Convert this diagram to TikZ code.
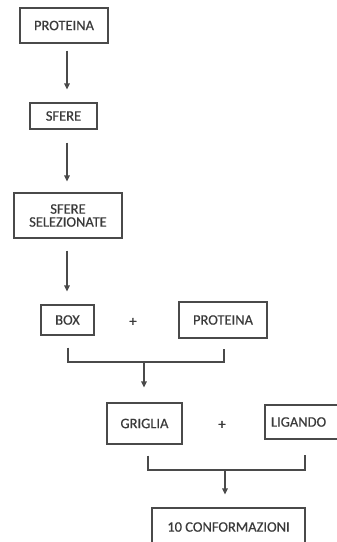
\documentclass[tikz,border=0pt]{standalone}
\usepackage{fontspec}
\setmainfont{Carlito}
\newfontfamily\lblfont[FakeBold=0.6]{Carlito}
\usetikzlibrary{arrows.meta,calc}
\definecolor{txt}{HTML}{3A3A3A}
\definecolor{ln}{HTML}{4A4A4A}
\tikzset{
  lbl/.style={text=txt, font=\lblfont\fontsize{14.5}{16}\selectfont},
  bx/.style={draw=ln, line width=1.1pt, rectangle, inner sep=0pt, lbl, align=center},
  arr/.style={draw=ln, line width=1.1pt, -{Triangle[length=6pt,width=5.5pt]}},
  con/.style={draw=ln, line width=1.1pt},
  plus/.style={lbl, inner sep=0pt}
}
\begin{document}
\begin{tikzpicture}[x=1pt,y=-1pt]
\useasboundingbox (0,0) rectangle (337,542);
\begin{scope}
\clip (0,0) rectangle (337,542);
\node[bx, minimum width=88pt, minimum height=35pt] (p1) at (64,25.5) {PROTEINA};
\node[bx, minimum width=67pt, minimum height=26pt] (sf) at (63.5,116) {SFERE};
\node[bx, minimum width=108pt, minimum height=45pt] (ss) at (68,215.5) {SFERE\\[-3pt]SELEZIONATE};
\node[bx, minimum width=53pt, minimum height=30pt] (bo) at (67.5,320) {BOX};
\node[plus] (pl1) at (133,322) {+};
\node[bx, minimum width=88pt, minimum height=36pt] (p2) at (223,320) {PROTEINA};
\node[bx, minimum width=75pt, minimum height=41pt] (gr) at (144.5,423.5) {GRIGLIA};
\node[plus] (pl2) at (222,425) {+};
\node[bx, minimum width=84pt, minimum height=34pt, text width=80pt, align=left] (li) at (307,422) {\hspace{4pt}LIGANDO};
\node[bx, minimum width=153pt, minimum height=40pt] (co) at (228.5,528) {};
\node[lbl, inner sep=0pt] (cot) at (228.5,527) {10 CONFORMAZIONI};
\end{scope}
\draw[arr] ($(p1.south)+(3,7)$) -- ($(sf.north)+(3.5,-13)$);
\draw[arr] ($(sf.south)+(3.5,13)$) -- ($(ss.north)+(-1,-11)$);
\draw[arr] ($(ss.south)+(-1,12)$) -- ($(bo.north)+(-0.5,-13)$);
\coordinate (b1l) at ($(bo.south)+(0.5,12)$);
\coordinate (b1r) at ($(p2.south)+(1,10)$);
\coordinate (b1m) at (b1l |- 0,362);
\draw[con] (b1l) -- (b1m) -- (b1r |- b1m) -- (b1r);
\coordinate (a1) at (144,362);
\draw[arr] (a1) -- ($(gr.north)+(-0.5,-15)$);
\coordinate (b2l) at ($(gr.south)+(3.5,11)$);
\coordinate (b2r) at (305,455);
\coordinate (b2m) at (b2l |- 0,470);
\draw[con] (b2l) -- (b2m) -- (b2r |- b2m) -- (b2r);
\coordinate (a2) at (225,470);
\draw[arr] (a2) -- ($(co.north)+(-3.5,-13)$);
\end{tikzpicture}
\end{document}
